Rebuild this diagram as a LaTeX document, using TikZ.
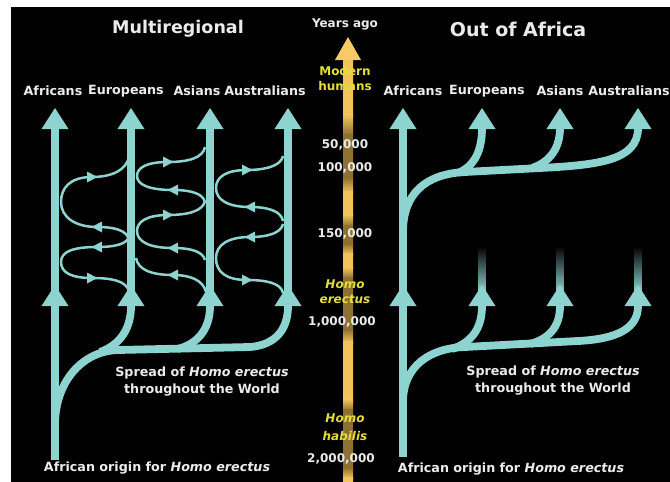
\documentclass[tikz,border=0pt]{standalone}
\usepackage{fontspec}
\setmainfont{DejaVu Sans}
\usetikzlibrary{arrows.meta}
\definecolor{cy}{HTML}{8DD3CF}
\definecolor{axg}{HTML}{F2C35A}
\definecolor{axh}{HTML}{F6CB66}
\definecolor{axd}{HTML}{8E7130}
\definecolor{txt}{HTML}{EBEBEB}
\definecolor{ylw}{HTML}{E3DE3C}
\begin{document}
\begin{tikzpicture}[x=1pt,y=1pt,
  trunkln/.style={draw=cy, line width=7.8pt},
  flowln/.style={draw=cy, line width=2.5pt},
  lab/.style={text=txt, font=\fontsize{12.7}{17}\selectfont\bfseries, inner sep=0pt, align=center},
  axlab/.style={text=txt, font=\fontsize{12}{14}\selectfont\bfseries, inner sep=0pt},
  ylab/.style={text=ylw, font=\fontsize{12}{14}\selectfont\bfseries, inner sep=0pt},
  ttl/.style={text=txt, font=\bfseries, inner sep=0pt},
  bighead/.pic={\fill[cy] (0,0) -- (-13.5,-21) -- (13.5,-21) -- cycle;},
  fwd/.pic={\fill[cy] (5.5,0) -- (-5,5.5) -- (-5,-5.5) -- cycle;}]
% canvas
\fill[white] (0,0) rectangle (670,-482);
\useasboundingbox (0,0) rectangle (670,-482);
\fill[black] (11,-7) rectangle (670,-482);

% time axis
\foreach \ya/\yb/\ca/\cb in {58/115/axg/axg, 115/135/axg/axd, 135/178/axd/axd, 178/192/axd/axg, 192/215/axg/axg, 215/226/axg/axd, 226/244/axd/axd, 244/254/axd/axg, 254/268/axg/axg, 268/278/axg/axd, 278/330/axd/axd, 330/342/axd/axg, 342/400/axg/axg, 400/410/axg/axd, 410/468/axd/axd, 468/478/axd/axg, 478/482/axg/axg}
  \shade[top color=\ca, bottom color=\cb] (343,-\ya+0.4) rectangle (353,-\yb-0.4);
\fill[axh] (348,-37) -- (335,-60) -- (361,-60) -- cycle;

% ---------- Multiregional ----------
\coordinate (m1) at (55,-108);
\coordinate (m2) at (131,-108);
\coordinate (m3) at (210,-108);
\coordinate (m4) at (288,-108);
\draw[trunkln] (55,-460) -- (55,-128);
\draw[trunkln] (55,-425) .. controls (55,-382) and (82,-351) .. (118,-350) -- (250,-347) .. controls (275,-345) and (288,-330) .. (288,-306) -- (288,-128);
\draw[trunkln] (100,-352) .. controls (117,-346) and (131,-332) .. (131,-306) -- (131,-128);
\draw[trunkln] (178,-349) .. controls (196,-344) and (210,-331) .. (210,-306) -- (210,-128);
\foreach \c in {m1,m2,m3,m4} {
  \pic at (\c) {bighead};
  \pic at ([yshift=-177pt]\c) {bighead};
}
% gene flow
\draw[flowln] (129,-156) .. controls (127,-171) and (110,-177) .. (92,-177) .. controls (70,-177) and (61,-188) .. (61,-202) .. controls (61,-217) and (75,-227) .. (97,-227) .. controls (114,-227) and (127,-230) .. (129,-240);
\draw[flowln] (129,-236) .. controls (128,-244) and (115,-247) .. (97,-247) .. controls (72,-247) and (61,-252) .. (61,-262) .. controls (61,-273) and (72,-278) .. (92,-278) .. controls (112,-278) and (126,-281) .. (129,-291);
\draw[flowln] (205,-147) .. controls (203,-158) and (188,-162) .. (168,-162) .. controls (148,-162) and (137,-167) .. (137,-176) .. controls (137,-185) and (150,-190) .. (173,-190) .. controls (192,-190) and (203,-194) .. (205,-202);
\draw[flowln] (205,-201) .. controls (203,-211) and (188,-215) .. (168,-215) .. controls (148,-215) and (137,-221) .. (137,-231) .. controls (137,-242) and (150,-248) .. (173,-248) .. controls (192,-248) and (203,-252) .. (205,-260);
\draw[flowln] (206,-292) .. controls (203,-280) and (190,-275) .. (173,-275) .. controls (152,-275) and (138,-270) .. (136,-258);
\draw[flowln] (283,-156) .. controls (281,-166) and (265,-170) .. (247,-170) .. controls (226,-170) and (216,-177) .. (216,-188) .. controls (216,-200) and (228,-207) .. (250,-207) .. controls (268,-207) and (281,-211) .. (283,-221);
\draw[flowln] (283,-224) .. controls (281,-233) and (268,-237) .. (250,-237) .. controls (228,-237) and (216,-245) .. (216,-258) .. controls (216,-272) and (226,-280) .. (247,-280) .. controls (266,-280) and (281,-283) .. (283,-293);
\pic at (92,-177) {fwd};
\pic[rotate=180] at (97,-227) {fwd};
\pic[rotate=180] at (97,-247) {fwd};
\pic at (92,-278) {fwd};
\pic at (168,-162) {fwd};
\pic[rotate=180] at (173,-190) {fwd};
\pic at (168,-215) {fwd};
\pic[rotate=180] at (173,-248) {fwd};
\pic[rotate=180] at (173,-275) {fwd};
\pic at (247,-170) {fwd};
\pic[rotate=180] at (250,-207) {fwd};
\pic[rotate=180] at (250,-237) {fwd};
\pic at (247,-280) {fwd};

% ---------- Out of Africa ----------
\coordinate (o1) at (403,-108);
\coordinate (o2) at (482,-108);
\coordinate (o3) at (560,-108);
\coordinate (o4) at (638,-108);
\foreach \x in {482,560,638}
  \shade[top color=black, bottom color=cy] (\x-3.9,-246) rectangle (\x+3.9,-292);
\draw[trunkln] (403,-457) -- (403,-128);
\draw[trunkln] (403,-402) .. controls (403,-366) and (430,-348) .. (465,-347) -- (578,-341) .. controls (618,-339) and (638,-328) .. (638,-306);
\draw[trunkln] (452,-349) .. controls (470,-343) and (482,-330) .. (482,-306);
\draw[trunkln] (530,-344) .. controls (548,-339) and (560,-328) .. (560,-306);
\draw[trunkln] (403,-232) .. controls (403,-194) and (425,-174) .. (465,-172) -- (540,-168) .. controls (600,-165) and (638,-160) .. (638,-128);
\draw[trunkln] (458,-173) .. controls (475,-166) and (482,-150) .. (482,-128);
\draw[trunkln] (532,-168) .. controls (550,-162) and (560,-148) .. (560,-128);
\foreach \c in {o1,o2,o3,o4} {
  \pic at (\c) {bighead};
  \pic at ([yshift=-177pt]\c) {bighead};
}

% ---------- texts ----------
\node[ttl, font=\fontsize{17.5}{20}\selectfont\bfseries] (tm) at (178,-29) {Multiregional};
\node[ttl, font=\fontsize{19}{20}\selectfont\bfseries] (to) at (518,-29) {Out of Africa};
\node[axlab] (ya) at (345,-24) {Years ago};

\node[lab] (la1) at (53,-91) {Africans};
\node[lab] (la2) at (126,-91) {Europeans};
\node[lab] (la3) at (197,-91) {Asians};
\node[lab] (la4) at (265,-91) {Australians};
\node[lab] (ra1) at (413,-91) {Africans};
\node[lab] (ra2) at (487,-91) {Europeans};
\node[lab] (ra3) at (560,-91) {Asians};
\node[lab] (ra4) at (629,-91) {Australians};

\node[ylab] (mo) at (345,-71) {Modern};
\node[ylab] (hu) at (345,-86) {humans};
\node[axlab] (t50) at (345,-145) {50,000};
\node[axlab] (t100) at (345,-168) {100,000};
\node[axlab] (t150) at (345,-234) {150,000};
\node[ylab] (he1) at (345,-284) {\itshape Homo};
\node[ylab] (he2) at (345,-299) {\itshape erectus};
\node[axlab] (t1m) at (342,-322) {1,000,000};
\node[ylab] (hh1) at (345,-418) {\itshape Homo};
\node[ylab] (hh2) at (345,-436) {\itshape habilis};
\node[axlab] (t2m) at (341,-459) {2,000,000};

\node[lab] (ls) at (202,-382) {Spread of \textit{Homo erectus}\\throughout the World};
\node[lab] (rs) at (553,-381) {Spread of \textit{Homo erectus}\\throughout the World};
\node[lab] (lo) at (157,-468) {African origin for \textit{Homo erectus}};
\node[lab] (ro) at (511,-469) {African origin for \textit{Homo erectus}};
\end{tikzpicture}
\end{document}
